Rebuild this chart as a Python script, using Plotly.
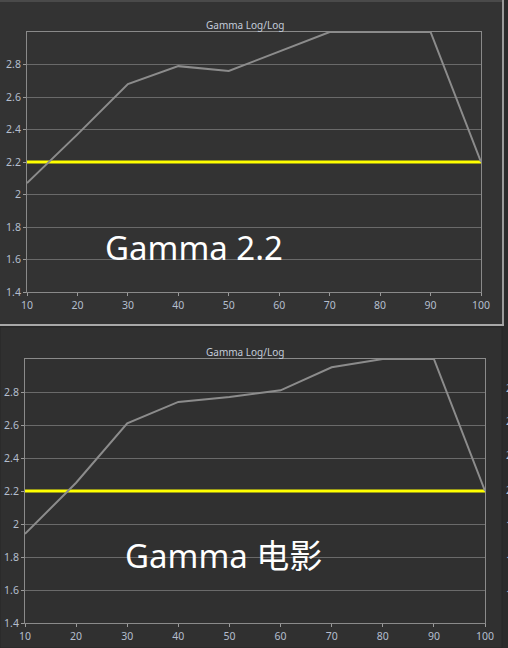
import plotly.graph_objects as go

# stimulus levels (%) and measured gamma for the two picture modes
levels = [10, 20, 30, 40, 50, 60, 70, 80, 90, 100]
gamma_22 = [2.07, 2.37, 2.68, 2.79, 2.76, 2.88, 3.0, 3.0, 3.0, 2.2]
gamma_film = [1.94, 2.25, 2.61, 2.74, 2.77, 2.81, 2.95, 3.0, 3.0, 2.2]
target_x = [10, 100]
target_y = [2.2, 2.2]

x_ticks = [10, 20, 30, 40, 50, 60, 70, 80, 90, 100]
y_ticks = [1.4, 1.6, 1.8, 2.0, 2.2, 2.4, 2.6, 2.8]
y_labels = ["1.4", "1.6", "1.8", "2", "2.2", "2.4", "2.6", "2.8"]

W, H = 508, 648


def px(x):
    return x / W


def py(y):
    return 1 - y / H


fig = go.Figure()

# gray measured curves + yellow target line, one set per panel
for vals, xa, ya in [(gamma_22, "x", "y"), (gamma_film, "x2", "y2")]:
    fig.add_trace(go.Scatter(x=target_x, y=target_y, mode="lines",
                             line=dict(color="#ffff00", width=3),
                             xaxis=xa, yaxis=ya, showlegend=False))
    fig.add_trace(go.Scatter(x=levels, y=vals, mode="lines",
                             line=dict(color="#8c8c8c", width=2),
                             xaxis=xa, yaxis=ya, showlegend=False))

tick_font = dict(family="Noto Sans", size=10.5, color="#b4bece")

xax = dict(range=[10, 100], tickvals=x_ticks, ticks="outside", ticklen=3,
           tickcolor="#9a9a9a", showgrid=False, zeroline=False,
           showline=True, linecolor="#8a8a8a", linewidth=1, mirror=True,
           tickfont=tick_font, fixedrange=True, automargin=False)
yax = dict(range=[1.4, 3.0], tickvals=y_ticks, ticktext=y_labels, ticks="outside",
           ticklen=3, tickcolor="#9a9a9a", showgrid=True, gridcolor="#6a6a6a",
           gridwidth=1, zeroline=False, showline=True, linecolor="#8a8a8a",
           linewidth=1, mirror=True, tickfont=tick_font, fixedrange=True,
           automargin=False)

fig.update_layout(
    width=W, height=H,
    margin=dict(l=0, r=0, t=0, b=0),
    paper_bgcolor="#2b2b2b",
    plot_bgcolor="#222222",
    xaxis=dict(xax, domain=[px(27), px(481)], anchor="y"),
    yaxis=dict(yax, domain=[py(292), py(32)], anchor="x"),
    xaxis2=dict(xax, domain=[px(25), px(485)], anchor="y2"),
    yaxis2=dict(yax, domain=[py(623), py(359)], anchor="x2"),
)

# window frames behind the two charts (paper coordinates)
frame = dict(xref="paper", yref="paper")
shapes = [
    dict(frame, type="rect", x0=0, x1=px(502), y0=0, y1=py(327),
         fillcolor="#303030", line=dict(color="#262626", width=1), layer="below"),
    dict(frame, type="rect", x0=0, x1=px(503), y0=py(324), y1=1,
         fillcolor="#333333", line=dict(width=0), layer="below"),
    dict(frame, type="line", x0=0, x1=px(503), y0=py(1), y1=py(1),
         line=dict(color="#4a4a4a", width=2), layer="below"),
    dict(frame, type="line", x0=px(503), x1=px(503), y0=py(326), y1=1,
         line=dict(color="#9a9a9a", width=2), layer="below"),
    dict(frame, type="line", x0=0, x1=px(504), y0=py(325), y1=py(325),
         line=dict(color="#a8a8a8", width=2), layer="below"),
]
fig.update_layout(shapes=shapes)

title_font = dict(family="Noto Sans", size=10, color="#c4ccda")
big_font = dict(family="Noto Sans, Noto Sans CJK SC", size=33, color="#ffffff")

annotations = [
    dict(text="Gamma Log/Log", x=px(245), y=py(25), xref="paper", yref="paper",
         showarrow=False, font=title_font, xanchor="center", yanchor="middle"),
    dict(text="Gamma Log/Log", x=px(245), y=py(352), xref="paper", yref="paper",
         showarrow=False, font=title_font, xanchor="center", yanchor="middle"),
    dict(text="Gamma 2.2", x=px(103), y=py(248), xref="paper", yref="paper",
         showarrow=False, font=big_font, xanchor="left", yanchor="middle"),
    dict(text="Gamma 电影", x=px(123), y=py(555), xref="paper", yref="paper",
         showarrow=False, font=big_font, xanchor="left", yanchor="middle"),
]
# cut-off labels of a neighbouring chart at the right edge
for yy, t in [(388, "2"), (421, "2"), (455, "2"), (490, "2"), (525, "1"), (560, "1"), (594, "1")]:
    annotations.append(dict(text=t, x=px(504), y=py(yy), xref="paper", yref="paper",
                            showarrow=False, font=tick_font, xanchor="left",
                            yanchor="middle"))
fig.update_layout(annotations=annotations)

# drop the browser's default page margin so the figure fills the window
page_fix = "document.body.style.margin='0';document.body.style.background='#2b2b2b';"
fig.write_html("out.html", post_script=page_fix, config={"displayModeBar": False})
